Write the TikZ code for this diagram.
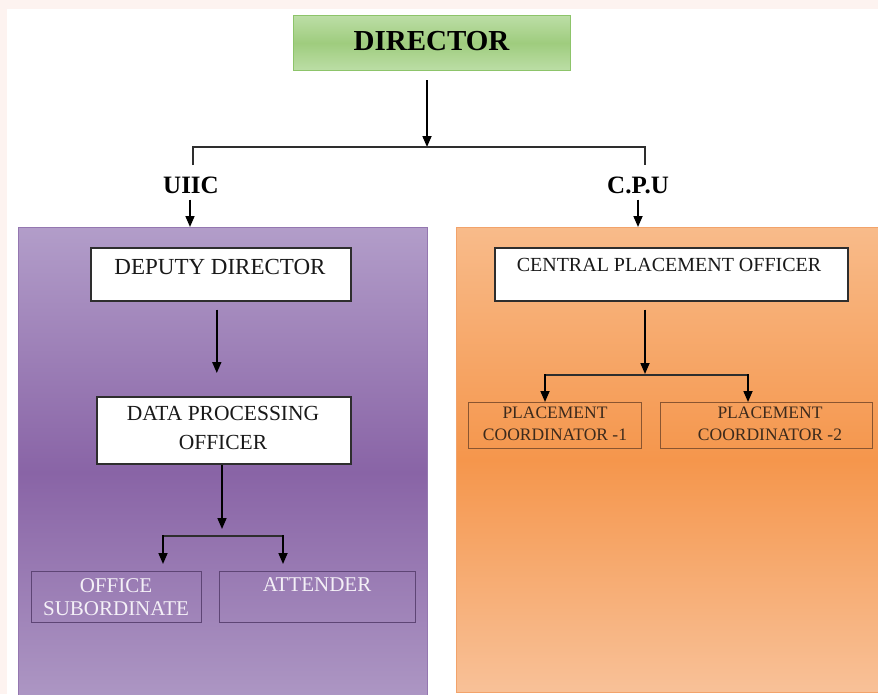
\documentclass[tikz,border=0pt]{standalone}
\usepackage{fontspec}
\setmainfont{Liberation Serif}
\usetikzlibrary{arrows.meta}
\definecolor{pinkbg}{HTML}{FDF3F0}
\definecolor{grTop}{HTML}{BCDEA6}
\definecolor{grMid}{HTML}{9FCC7E}
\definecolor{grLine}{HTML}{8DC46A}
\definecolor{puTop}{HTML}{B29DC9}
\definecolor{puMid}{HTML}{8964A6}
\definecolor{puBot}{HTML}{B09BC6}
\definecolor{puLine}{HTML}{9477B0}
\definecolor{orTop}{HTML}{F8BB8A}
\definecolor{orMid}{HTML}{F5964C}
\definecolor{orBot}{HTML}{F8C198}
\definecolor{orLine}{HTML}{F2A36B}
\definecolor{puBox}{HTML}{5E4575}
\definecolor{puTxt}{HTML}{F4F0F7}
\definecolor{orBox}{HTML}{8A5530}
\definecolor{orTxt}{HTML}{3C2A1C}
\definecolor{lineC}{HTML}{2E2E2E}
\tikzset{
  arr/.style={-{Triangle[width=9pt,length=11pt]}, line width=1.7pt, draw=black},
  conn/.style={line width=1.9pt, draw=lineC},
  wbox/.style={draw=lineC, line width=1.6pt, fill=white, anchor=north west, inner sep=0pt},
  pbox/.style={draw=puBox, line width=1pt, anchor=north west, inner sep=0pt},
  obox/.style={draw=orBox, line width=1pt, anchor=north west, inner sep=0pt},
  txt/.style={inner sep=2pt, align=center, text=black!90},
  lbl/.style={inner sep=3pt, font=\fontsize{25}{28}\selectfont\bfseries},
}
\begin{document}
\begin{tikzpicture}[x=1pt,y=-1pt]
\useasboundingbox (0,0) rectangle (878,694);
\fill[pinkbg] (0,0) rectangle (878,694);
\fill[white] (7,9) rectangle (878,694);

% panels
\node[anchor=north west, inner sep=0pt, minimum width=409pt, minimum height=490pt,
  draw=puLine, line width=1.2pt, top color=puTop, bottom color=puBot, middle color=puMid] (pp) at (18,227) {};
\node[anchor=north west, inner sep=0pt, minimum width=440pt, minimum height=465pt,
  draw=orLine, line width=1.2pt, top color=orTop, bottom color=orBot, middle color=orMid] (op) at (456,227) {};

% director
\node[anchor=north west, inner sep=0pt, minimum width=277pt, minimum height=55pt,
  draw=grLine, line width=1pt, top color=grTop, bottom color=grTop, middle color=grMid] (dir) at (293,15) {};
\node[inner sep=2pt, font=\fontsize{29}{32}\selectfont\bfseries] (dirt) at (431.5,41) {DIRECTOR};

% top labels
\node[lbl] (uiic) at (191,185) {UIIC};
\node[lbl] (cpu) at (638,185) {C.P.U};

\coordinate (j0) at (427,147);
\coordinate (tl) at (193,165);
\coordinate (tr) at (645,165);
\draw[arr] ([yshift=-9pt]j0 |- dir.south) -- (j0);
\draw[conn] (tl) |- (j0) -| (tr);
\draw[arr] ([xshift=-1pt,yshift=-3pt]uiic.south) -- ([xshift=-1pt]uiic.south |- pp.north);
\draw[arr] ([yshift=-3pt]cpu.south) -- (cpu.south |- op.north);

% left column
\node[wbox, minimum width=260pt, minimum height=53pt] (dd) at (90,247) {};
\node[txt, font=\fontsize{23}{26}\selectfont] (ddt) at (220,267) {DEPUTY DIRECTOR};
\node[wbox, minimum width=254pt, minimum height=67pt] (dpo) at (96,396) {};
\node[txt, font=\fontsize{21.5}{29}\selectfont] (dpot) at (223,428) {DATA PROCESSING\\OFFICER};
\draw[arr] ([xshift=-4pt,yshift=-8pt]dd.south) -- ([xshift=-7pt,yshift=23pt]dpo.north);

\node[pbox, minimum width=170pt, minimum height=51pt] (os) at (31,571) {};
\node[txt, text=puTxt, font=\fontsize{21}{23}\selectfont] (ost) at (116,597) {OFFICE\\SUBORDINATE};
\node[pbox, minimum width=196pt, minimum height=51pt] (att) at (219,571) {};
\node[txt, text=puTxt, font=\fontsize{21}{23}\selectfont] (attt) at (317,585) {ATTENDER};

\coordinate (jl) at (222,529);
\coordinate (bl1) at (163,536);
\coordinate (bl2) at (283,536);
\draw[arr] (jl |- dpo.south) -- (jl);
\draw[conn] (bl1) -- (bl2);
\draw[arr] ([yshift=0.9pt]bl1) -- ([yshift=7pt]bl1 |- os.north);
\draw[arr] ([yshift=0.9pt]bl2) -- ([yshift=7pt]bl2 |- att.north);

% right column
\node[wbox, minimum width=353pt, minimum height=53pt] (cpo) at (494,247) {};
\node[txt, font=\fontsize{20}{23}\selectfont] (cpot) at (669,265) {CENTRAL PLACEMENT OFFICER};
\node[obox, minimum width=173pt, minimum height=46pt] (pc1) at (468,402) {};
\node[txt, text=orTxt, font=\fontsize{17.5}{22}\selectfont] (pc1t) at (555,424) {PLACEMENT\\COORDINATOR -1};
\node[obox, minimum width=212pt, minimum height=46pt] (pc2) at (660,402) {};
\node[txt, text=orTxt, font=\fontsize{17.5}{22}\selectfont] (pc2t) at (770,424) {PLACEMENT\\COORDINATOR -2};

\coordinate (jr) at (645,374);
\coordinate (br1) at (545,375);
\coordinate (br2) at (748,375);
\draw[arr] ([yshift=-8pt]cpo.south -| jr) -- (jr);
\draw[conn] (br1) -- (br2);
\draw[arr] ([yshift=0.9pt]br1) -- (br1 |- pc1.north);
\draw[arr] ([yshift=0.9pt]br2) -- (br2 |- pc2.north);
\end{tikzpicture}
\end{document}
